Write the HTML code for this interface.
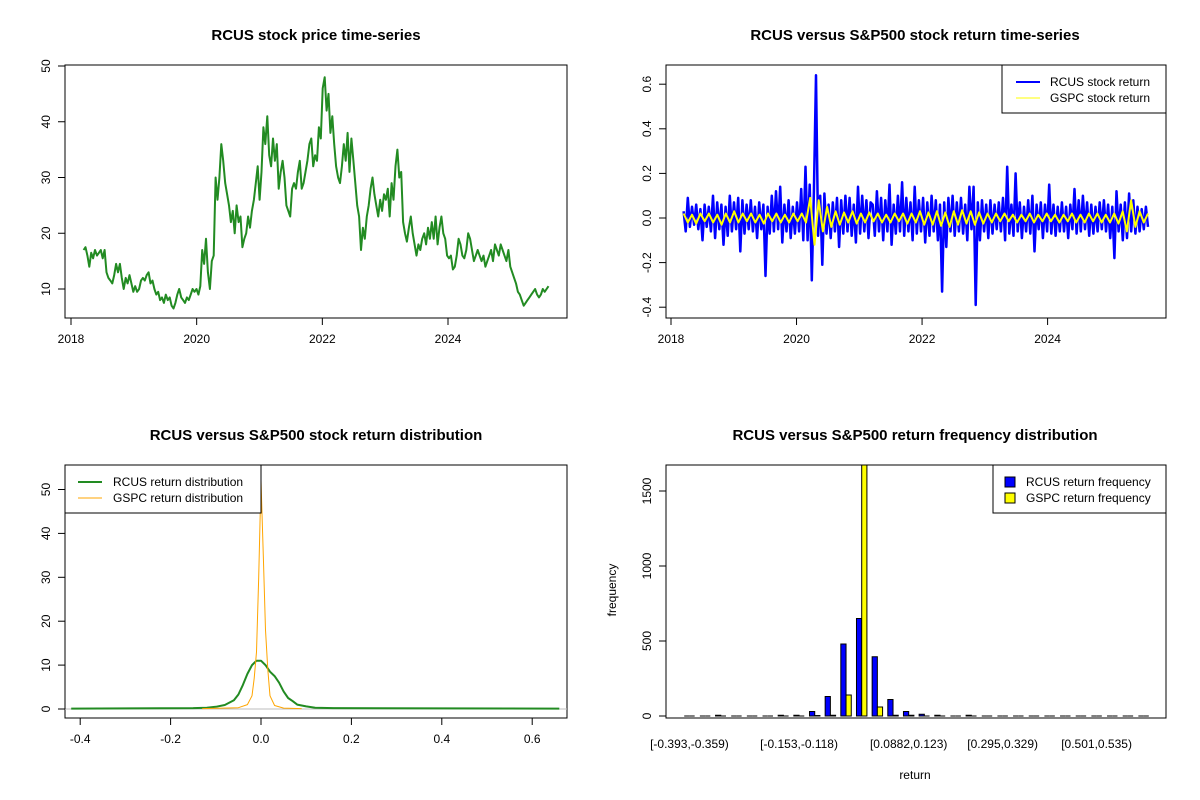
<!DOCTYPE html>
<html><head><meta charset="utf-8"><style>
html,body{margin:0;padding:0;background:#fff;}
svg{display:block;font-family:"Liberation Sans",Arial,sans-serif;}
</style></head><body>
<svg id="c" width="1200" height="800" viewBox="0 0 1200 800"></svg>
<script>
// ---- data ----
const priceStart = 2018.2, priceEnd = 2025.6;
const priceVals = [17,17.5,16,14,16.5,15.5,17,16,16.5,17,15.5,17,13,12,11.5,11,12.5,14.5,13,14.5,12,10,12,11,12.5,11,9.5,10.5,9.5,10,11.5,12,11.5,12.5,13,11,11.5,10,9,9.5,8,8.5,7.5,9,8,8.5,7,6.5,7.5,9,10,8.5,8,7.5,8.5,8,9,10,9.5,10,9,10.5,17,14.5,19,13,10,15,16,30,26,30,36,33,29,27,25,22,24,20,25,22,23,17.5,19,20,23,21,24,26,29,32,26,31,39,36,41,34,32,37,33,36,28,31,33,30,25,24,23,28,29,28,31,33,28,29,31,33,36,37,32,34,33,39,37,46,48,42,45,38,41,36,32,30,29,32,36,33,38,31,37,33,29,25,23,17,21,19,23,25,28,30,27,25,23,26,24,27,26,28,23,29,26,32,35,30,31,22,20,18.5,21,23,20,18,16,18,17,19,20,18,21,19,22,19,23,18,21,23,20,19,16,15.5,16,13.5,14,16,19,18,16,15.5,17,20,19,17,15,16,17,16,15,16,14,15,16,17,15,18,17,16,18,17,16,15,17,14,13,12,11,9.5,9,8,7,7.5,8,8.5,9,9.5,10,9,8.5,9,10,9.5,10,10.5];
const priceYTicks = [10,20,30,40,50];
const yearTicks = [2018,2020,2022,2024];
const rcusRet = [.03,-.06,.09,-.04,.05,-.03,.06,-.05,.04,-.10,.06,-.04,.05,-.06,.10,-.09,.07,-.05,.06,-.12,.05,-.08,.10,-.06,.07,-.05,.09,-.15,.08,-.07,
.06,-.05,.08,-.06,.05,-.09,.07,-.05,.06,-.26,.05,-.07,.10,-.06,.12,-.05,.14,-.11,.06,-.06,.08,-.09,.05,-.07,.07,-.06,.13,-.10,.23,-.10,
.15,-.28,.12,.64,-.08,.10,-.21,.11,-.07,.06,-.09,.07,-.06,.09,-.13,.08,-.07,.10,-.06,.09,-.08,.06,-.11,.14,-.07,.10,-.06,.08,-.09,.07,
.06,-.08,.12,-.06,.09,-.10,.08,-.06,.15,-.12,.06,-.07,.10,-.06,.16,-.08,.09,-.06,.07,-.10,.14,-.07,.08,-.06,.09,-.11,.07,-.08,.10,-.06,
.08,-.10,.06,-.33,.07,-.13,.09,-.06,.10,-.08,.07,-.06,.09,-.07,.06,-.10,.14,-.05,.14,-.39,.07,-.10,.08,-.06,.06,-.09,.08,-.07,.06,-.05,
.07,-.06,.09,-.10,.23,-.07,.06,-.08,.20,-.06,.07,-.09,.05,-.06,.08,-.07,.10,-.15,.06,-.05,.07,-.09,.06,-.06,.15,-.07,.06,-.08,.05,-.06,
.07,-.06,.05,-.09,.06,-.05,.13,-.07,.08,-.06,.10,-.05,.07,-.08,.06,-.07,.05,-.06,.07,-.05,.08,-.06,.06,-.09,.05,-.18,.12,-.06,.06,-.10,
.07,-.09,.11,-.06,.08,-.07,.05,-.06,.04,-.05,.05,-.04];
const gspcRet = [.02,-.02,.015,-.025,.02,-.015,.02,-.02,.015,-.03,.02,-.02,.03,-.02,.02,
-.015,.02,-.02,.015,-.025,.02,-.015,.02,-.02,.015,-.02,.02,-.015,.02,-.02,
.09,-.12,.08,-.06,.05,-.04,.03,-.03,.025,-.02,.03,-.025,.02,-.02,.025,
-.015,.02,-.02,.015,-.02,.02,-.015,.02,-.025,.02,-.02,.03,-.03,.025,-.03,
.03,-.035,.025,-.04,.03,-.03,.035,-.025,.03,-.03,.025,-.025,.02,-.02,.02,
-.015,.02,-.015,.015,-.02,.015,-.015,.02,-.02,.015,-.015,.02,-.015,.015,-.02,
.015,-.015,.02,-.02,.015,-.02,.02,-.015,.02,-.02,.015,-.02,.02,-.025,.03,
-.06,.08,-.04,.03,-.02,.02];
const retYTicks = [-0.4,-0.2,0,0.2,0.4,0.6];
const rcusDensX = [-0.42,-0.15,-0.12,-0.10,-0.08,-0.06,-0.05,-0.04,-0.03,-0.02,-0.01,0,0.01,0.02,0.03,0.04,0.05,0.06,0.07,0.08,0.10,0.12,0.16,0.66];
const rcusDensY = [0.1,0.2,0.3,0.5,0.9,2.0,3.3,5.5,8,10,11,11,10,8.5,7.5,6,4,2.5,1.8,1.0,0.6,0.3,0.2,0.1];
const gspcDensX = [-0.13,-0.05,-0.03,-0.02,-0.015,-0.01,-0.005,0,0.005,0.01,0.015,0.02,0.03,0.05,0.09];
const gspcDensY = [0.1,0.3,1,3,7,13,30,52,35,18,9,3,0.8,0.2,0.1];
const densXTicks = [-0.4,-0.2,0,0.2,0.4,0.6];
const densYTicks = [0,10,20,30,40,50];
const rcusFreq = [0,0,5,0,0,0,5,5,30,130,480,650,395,110,30,12,5,0,5,0,0,0,0,0,0,0,0,0,0,0];
const gspcFreq = [0,0,0,0,0,0,0,0,3,5,140,1900,60,5,5,0,0,0,0,0,0,0,0,0,0,0,0,0,0,0];
const binLabels = {0:"[-0.393,-0.359)",7:"[-0.153,-0.118)",14:"[0.0882,0.123)",20:"[0.295,0.329)",26:"[0.501,0.535)"};
const freqTicks = [0,500,1000,1500];

const NS="http://www.w3.org/2000/svg", svg=document.getElementById('c');
function mk(tag, attrs, parent){const e=document.createElementNS(NS,tag);for(const k in attrs)e.setAttribute(k,attrs[k]);(parent||svg).appendChild(e);return e;}
function txt(x,y,s,extra,parent){const t=mk('text',Object.assign({x:x,y:y,'font-size':12,fill:'#000','text-anchor':'middle'},extra||{}),parent);t.textContent=s;return t;}
function scale(d0,d1,r0,r1){return v=>r0+(v-d0)*(r1-r0)/(d1-d0);}
function box(x0,y0,x1,y1,name){const r=mk('rect',{x:x0,y:y0,width:x1-x0,height:y1-y0,fill:'none',stroke:'#000','stroke-width':1});

}
function xAxis(ticks,sx,yb,fmt,name){const g=mk('g',{});


mk('line',{x1:sx(ticks[0]),x2:sx(ticks[ticks.length-1]),y1:yb,y2:yb,stroke:'#000'},g);
ticks.forEach(t=>{mk('line',{x1:sx(t),x2:sx(t),y1:yb,y2:yb+7,stroke:'#000'},g);txt(sx(t),yb+25,fmt(t),{},g);});}
function yAxis(ticks,sy,xl,fmt,name){const g=mk('g',{});


mk('line',{x1:xl,x2:xl,y1:sy(ticks[0]),y2:sy(ticks[ticks.length-1]),stroke:'#000'},g);
ticks.forEach(t=>{mk('line',{x1:xl-7,x2:xl,y1:sy(t),y2:sy(t),stroke:'#000'},g);txt(xl-15,sy(t),fmt(t),{transform:`rotate(-90 ${xl-15} ${sy(t)})`},g);});}
function title(x,y,s,name){const t=txt(x,y,s,{'font-size':15,'font-weight':'bold'});

}
function poly(pts,color,w,name){const p=mk('polyline',{points:pts.map(p=>p[0].toFixed(1)+','+p[1].toFixed(1)).join(' '),fill:'none',stroke:color,'stroke-width':w,'stroke-linejoin':'round'});

}
const f1=v=>String(v), f2=v=>v.toFixed(1);

// ---- Panel 1: price ----
title(316,40,"RCUS stock price time-series","price-chart-title");
box(65,65,567,318,"price-plot-frame");
{const sx=scale(2018,2024,71,448), sy=scale(10,50,289,66);
const n=priceVals.length;
poly(priceVals.map((v,i)=>[sx(priceStart+(priceEnd-priceStart)*i/(n-1)),sy(v)]),'#228B22',2,'price-line');
xAxis(yearTicks,sx,318,f1,'price-x-axis');yAxis(priceYTicks,sy,65,f1,'price-y-axis');}

// ---- Panel 2: returns ----
title(915,40,"RCUS versus S&P500 stock return time-series","return-chart-title");
box(666,65,1166,318,"return-plot-frame");
{const sx=scale(2018,2024,671,1047.6), sy=scale(0,0.2,218,173.4);
let n=rcusRet.length;
poly(rcusRet.map((v,i)=>[sx(priceStart+(priceEnd-priceStart)*i/(n-1)),sy(v)]),'#0000FF',2.5,'rcus-return-line');
n=gspcRet.length;
poly(gspcRet.map((v,i)=>[sx(priceStart+(priceEnd-priceStart)*i/(n-1)),sy(v)]),'#FFFF00',2,'gspc-return-line');
xAxis(yearTicks,sx,318,f1,'return-x-axis');yAxis(retYTicks,sy,666,f2,'return-y-axis');
const lg=mk('g',{});


mk('rect',{x:1002,y:65,width:164,height:48,fill:'#fff',stroke:'#000'},lg);
mk('line',{x1:1016,x2:1040,y1:82,y2:82,stroke:'#0000FF','stroke-width':2},lg);
mk('line',{x1:1016,x2:1040,y1:98,y2:98,stroke:'#FFFF00','stroke-width':1},lg);
txt(1050,86,"RCUS stock return",{'text-anchor':'start'},lg);
txt(1050,102,"GSPC stock return",{'text-anchor':'start'},lg);}

// ---- Panel 3: density ----
title(316,440,"RCUS versus S&P500 stock return distribution","density-chart-title");
box(65,465,567,718,"density-plot-frame");
{const sx=scale(0,0.2,261,351.4), sy=scale(0,50,709,489.5);
mk('line',{x1:65,x2:567,y1:sy(0),y2:sy(0),stroke:'#BEBEBE'});
poly(rcusDensX.map((x,i)=>[sx(x),sy(rcusDensY[i])]),'#228B22',2,'rcus-density-line');
poly(gspcDensX.map((x,i)=>[sx(x),sy(gspcDensY[i])]),'#FFA500',1,'gspc-density-line');
xAxis(densXTicks,sx,718,f2,'density-x-axis');yAxis(densYTicks,sy,65,f1,'density-y-axis');
const lg=mk('g',{});


mk('rect',{x:65,y:465,width:196,height:48,fill:'#fff',stroke:'#000'},lg);
mk('line',{x1:78,x2:102,y1:482,y2:482,stroke:'#228B22','stroke-width':2},lg);
mk('line',{x1:78,x2:102,y1:498,y2:498,stroke:'#FFA500','stroke-width':1},lg);
txt(113,486,"RCUS return distribution",{'text-anchor':'start'},lg);
txt(113,502,"GSPC return distribution",{'text-anchor':'start'},lg);}

// ---- Panel 4: histogram ----
title(915,440,"RCUS versus S&P500 return frequency distribution","histogram-chart-title");
{const cp=mk('clipPath',{id:'hc'});mk('rect',{x:666,y:465,width:500,height:253},cp);}
{const w=5.22, x0=679, sy=scale(0,500,716,641);
function bar(x,v,color,name){const y=Math.max(sy(v),465),b=sy(0);
const p=mk('path',{d:`M${x},${b}V${y}H${x+w}V${b}Z`,fill:color,stroke:'#000','stroke-width':1,'clip-path':'url(#hc)'});

}
rcusFreq.forEach((v,i)=>bar(x0+(3*i+1)*w,v,'#0000FF','rcus-freq-bar'));
gspcFreq.forEach((v,i)=>bar(x0+(3*i+2)*w,v,'#FFFF00','gspc-freq-bar'));
box(666,465,1166,718,"histogram-plot-frame");
const g=mk('g',{});


Object.keys(binLabels).forEach(k=>txt(x0+(3*k+2)*w,748,binLabels[k],{},g));
yAxis(freqTicks,sy,666,f1,'histogram-y-axis');
const xl=txt(915,779,"return",{});


const yl=txt(616,590,"frequency",{transform:'rotate(-90 616 590)'});


const lg=mk('g',{});


mk('rect',{x:993,y:465,width:173,height:48,fill:'#fff',stroke:'#000'},lg);
mk('rect',{x:1005,y:477,width:10,height:10,fill:'#0000FF',stroke:'#000'},lg);
mk('rect',{x:1005,y:493,width:10,height:10,fill:'#FFFF00',stroke:'#000'},lg);
txt(1026,486,"RCUS return frequency",{'text-anchor':'start'},lg);
txt(1026,502,"GSPC return frequency",{'text-anchor':'start'},lg);}
</script>
</body></html>
